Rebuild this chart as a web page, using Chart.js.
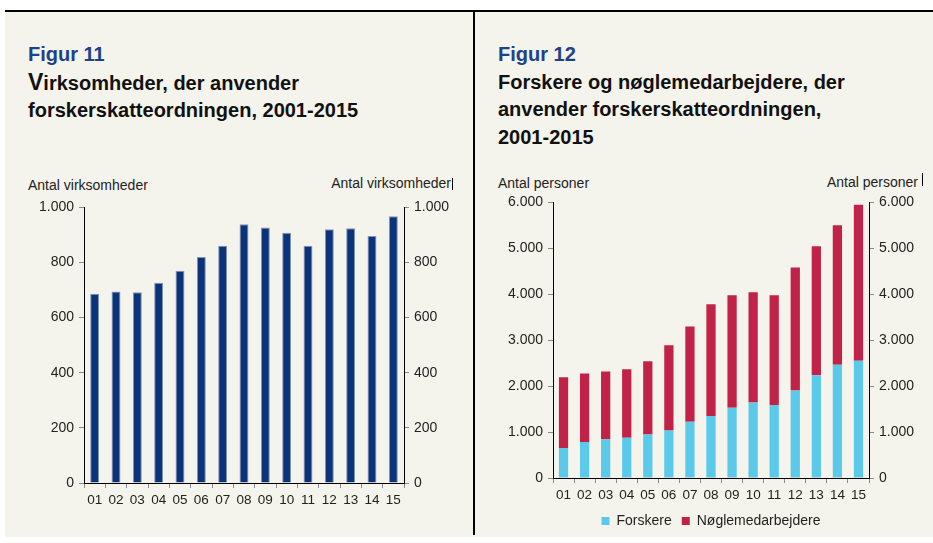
<!DOCTYPE html>
<html lang="da">
<head>
<meta charset="UTF-8">
<title>Figur 11 og 12</title>
<script src="https://cdn.jsdelivr.net/npm/chart.js"></script>
<style>
    body {
        margin: 0;
        background: #ffffff;
        font-family: "Liberation Sans", Arial, sans-serif;
        width: 933px;
        height: 543px;
        position: relative;
        overflow: hidden;
    }
    .panel {
        position: absolute;
        left: 5px;
        top: 10px;
        width: 928px;
        height: 525px;
        background: #f5f4ec;
        border-top: 2px solid #000;
    }
    .divider {
        position: absolute;
        left: 473px;
        top: 11px;
        width: 2px;
        height: 524px;
        background: #000;
    }
    .title {
        position: absolute;
        font-size: 20px;
        font-weight: bold;
        line-height: 27.5px;
        color: #111;
        white-space: nowrap;
    }
    .title .fig { color: #1d4289; }
    .axis-title {
        position: absolute;
        font-size: 14px;
        color: #222;
        white-space: nowrap;
        line-height: 16px;
    }
    .cursor {
        position: absolute;
        width: 1px;
        background: #000;
    }
    canvas { position: absolute; }
</style>
</head>
<body>
<div class="panel"></div>
<div class="divider"></div>

<div class="title" style="left:28px; top:41px;">
    <span class="fig">Figur 11</span><br>
    <span style="font-size:23px">V</span>irksomheder, der anvender<br>
    forskerskatteordningen, 2001-2015
</div>
<div class="title" style="left:498px; top:41px;">
    <span class="fig">Figur 12</span><br>
    Forskere og nøglemedarbejdere, der<br>
    anvender forskerskatteordningen,<br>
    2001-2015
</div>

<div class="axis-title" style="left:28px; top:177px;">Antal virksomheder</div>
<div class="axis-title" style="right:482px; top:175px;">Antal virksomheder</div>
<div class="cursor" style="left:452px; top:178px; height:12px;"></div>

<div class="axis-title" style="left:498px; top:175px;">Antal personer</div>
<div class="axis-title" style="right:15px; top:174px;">Antal personer</div>
<div class="cursor" style="left:922px; top:173px; height:13px;"></div>

<canvas id="fig11" width="420" height="318" style="left:34px; top:194px;"></canvas>
<canvas id="fig12" width="416" height="349" style="left:503px; top:189px;"></canvas>

<script>
    // Årstal (2001-2015)
    const years = ['01', '02', '03', '04', '05', '06', '07', '08', '09', '10', '11', '12', '13', '14', '15'];

    // Figur 11: virksomheder
    const virksomheder = [687, 695, 692, 727, 770, 820, 861, 939, 927, 908, 861, 921, 924, 896, 968];

    // Figur 12: personer
    const forskere = [652, 783, 841, 877, 949, 1036, 1225, 1348, 1529, 1645, 1587, 1906, 2239, 2464, 2551];
    const noeglemedarbejdere = [1544, 1492, 1478, 1488, 1591, 1854, 2072, 2436, 2451, 2400, 2393, 2676, 2808, 3041, 3397];

    const fig11Ticks = { min: 0, max: 1000, step: 200 };
    const fig12Ticks = { min: 0, max: 6000, step: 1000 };

    const textColor = '#222';
    const tickMarkColor = '#8a8a8a';

    // tusindtalsseparator med punktum
    function fmt(v) {
        return String(v).replace(/\B(?=(\d{3})+(?!\d))/g, '.');
    }

    function xAxis(stacked, height) {
        return {
            stacked: stacked,
            grid: { drawOnChartArea: false, offset: true, tickLength: 5, color: tickMarkColor },
            border: { color: '#000', width: 1 },
            ticks: { color: textColor, font: { size: 13.5 }, padding: 4, maxRotation: 0, autoSkip: false },
            afterFit(scale) { scale.height = height; }
        };
    }

    function yAxis(pos, t, stacked) {
        return {
            position: pos,
            stacked: stacked,
            min: t.min,
            max: t.max,
            grid: { drawOnChartArea: false, tickLength: 5, color: tickMarkColor },
            border: { color: '#000', width: 1 },
            ticks: {
                stepSize: t.step,
                color: textColor,
                font: { size: 14 },
                padding: 5,
                callback: v => fmt(v)
            },
            afterFit(scale) { scale.width = 50; }
        };
    }

    Chart.defaults.font.family = '"Liberation Sans", Arial, sans-serif';

    new Chart(document.getElementById('fig11').getContext('2d'), {
        type: 'bar',
        data: {
            labels: years,
            datasets: [{
                label: 'Virksomheder',
                data: virksomheder,
                backgroundColor: '#0a337a',
                borderColor: '#8195b8',
                borderWidth: 1,
                categoryPercentage: 1,
                barPercentage: 0.42,
                yAxisID: 'y'
            }]
        },
        options: {
            responsive: false,
            animation: false,
            layout: { padding: { top: 8, left: 0, right: 0, bottom: 0 } },
            plugins: { legend: { display: false }, tooltip: { enabled: false } },
            scales: {
                x: xAxis(false, 29),
                y: yAxis('left', fig11Ticks, false),
                y2: yAxis('right', fig11Ticks, false)
            }
        }
    });

    new Chart(document.getElementById('fig12').getContext('2d'), {
        type: 'bar',
        data: {
            labels: years,
            datasets: [{
                label: 'Forskere',
                data: forskere,
                backgroundColor: '#5bc9ea',
                categoryPercentage: 1,
                barPercentage: 0.44,
                yAxisID: 'y'
            }, {
                label: 'Nøglemedarbejdere',
                data: noeglemedarbejdere,
                backgroundColor: '#c02347',
                categoryPercentage: 1,
                barPercentage: 0.44,
                yAxisID: 'y'
            }]
        },
        options: {
            responsive: false,
            animation: false,
            layout: { padding: { top: 10, left: 0, right: 0, bottom: 0 } },
            plugins: {
                tooltip: { enabled: false },
                legend: {
                    position: 'bottom',
                    labels: {
                        color: textColor,
                        font: { size: 14 },
                        boxWidth: 8,
                        boxHeight: 8,
                        padding: 10
                    }
                }
            },
            scales: {
                x: xAxis(true, 26),
                y: yAxis('left', fig12Ticks, true),
                y2: yAxis('right', fig12Ticks, true)
            }
        }
    });
</script>
</body>
</html>
